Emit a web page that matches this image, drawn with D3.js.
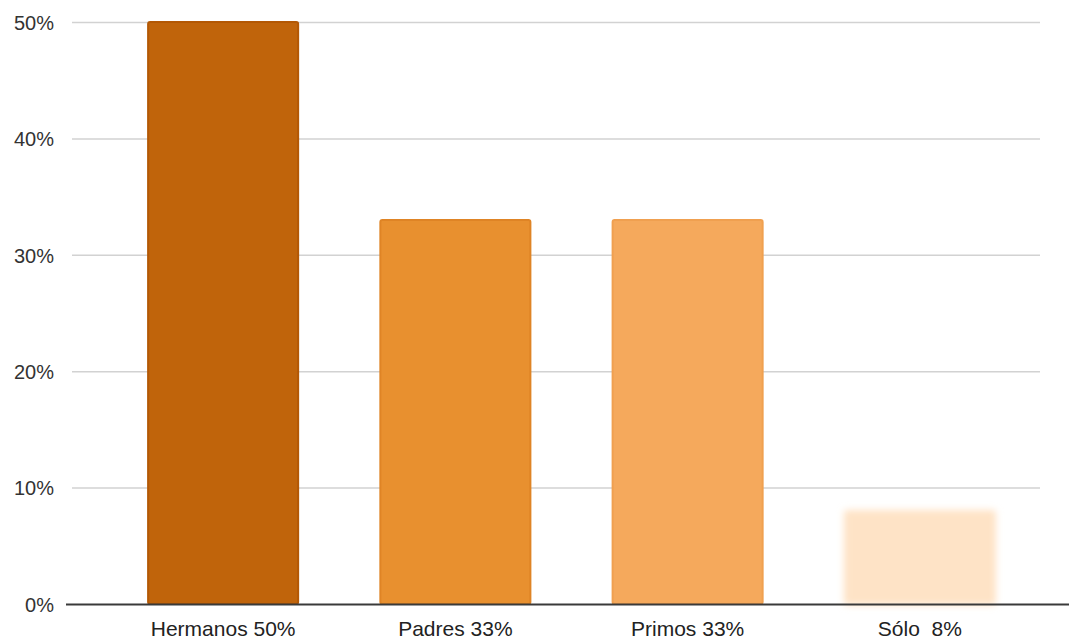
<!DOCTYPE html>
<html>
<head>
<meta charset="utf-8">
<script src="https://cdn.jsdelivr.net/npm/d3@7"></script>
<style>
  html, body { margin: 0; padding: 0; background: #ffffff; }
  svg { display: block; }
  text { font-family: "Liberation Sans", Arial, sans-serif; }
</style>
</head>
<body>
<svg id="chart" width="1069" height="640"></svg>
<script>
// Who the respondents live with (share of answers)
const categories = ["Hermanos", "Padres", "Primos", "Sólo"];
const values = [50, 33, 33, 8];
const labels = ["Hermanos 50%", "Padres 33%", "Primos 33%", "Sólo  8%"];
const yTicks = [0, 10, 20, 30, 40, 50];
const barColors = ["#c0640b", "#e8902f", "#f5a95c", "#fee3c6"];
const barEdges = ["#b35805", "#df8425", "#f0a050", "#fee3c6"];

const svg = d3.select("#chart");
const W = 1069, H = 640;
const margin = { top: 22, right: 33, bottom: 36, left: 107 };

const x = d3.scaleBand()
  .domain(categories)
  .range([margin.left, W - margin.right])
  .paddingInner(0.354)
  .paddingOuter(0.177);

const y = d3.scaleLinear()
  .domain([0, 50])
  .range([H - margin.bottom, margin.top]);

// soft edge for the faint last bar
const defs = svg.append("defs");
defs.append("filter").attr("id", "soft")
  .attr("x", "-10%").attr("y", "-10%").attr("width", "120%").attr("height", "120%")
  .append("feGaussianBlur").attr("stdDeviation", 3.5);

// horizontal gridlines
const grid = svg.append("g")
  .attr("transform", "translate(72,0)")
  .call(d3.axisLeft(y).tickValues(yTicks.filter(d => d > 0)).tickSize(-(1040 - 72)).tickFormat(""));
grid.select(".domain").remove();
grid.selectAll(".tick line").attr("stroke", "#d2d2d2").attr("stroke-width", 1.5);

// y tick labels
const yAxis = svg.append("g")
  .attr("transform", "translate(54,0)")
  .call(d3.axisLeft(y).tickValues(yTicks).tickSize(0).tickPadding(0).tickFormat(d => d + "%"));
yAxis.select(".domain").remove();
yAxis.selectAll("text")
  .attr("fill", "#333")
  .style("font-size", "20px")
  .attr("dy", "0.36em");

// bars
svg.append("g").selectAll("rect")
  .data(values)
  .join("rect")
  .attr("x", (d, i) => x(categories[i]))
  .attr("y", d => y(d))
  .attr("width", x.bandwidth())
  .attr("height", d => y(0) - y(d))
  .attr("rx", 2)
  .attr("fill", (d, i) => barColors[i])
  .attr("stroke", (d, i) => barEdges[i])
  .attr("stroke-width", 2)
  .attr("filter", (d, i) => i === 3 ? "url(#soft)" : null);

// baseline
svg.append("line")
  .attr("x1", 66).attr("x2", W)
  .attr("y1", y(0) + 0.5).attr("y2", y(0) + 0.5)
  .attr("stroke", "#3a3a3a").attr("stroke-width", 2);

// category labels
const xAxis = svg.append("g")
  .attr("transform", `translate(0,${y(0)})`)
  .call(d3.axisBottom(x).tickSize(0).tickFormat((d, i) => labels[i]));
xAxis.select(".domain").remove();
xAxis.selectAll("text")
  .attr("y", 0)
  .attr("dy", 32)
  .attr("fill", "#222")
  .style("font-size", "21px")
  .style("white-space", "pre");
</script>
</body>
</html>
